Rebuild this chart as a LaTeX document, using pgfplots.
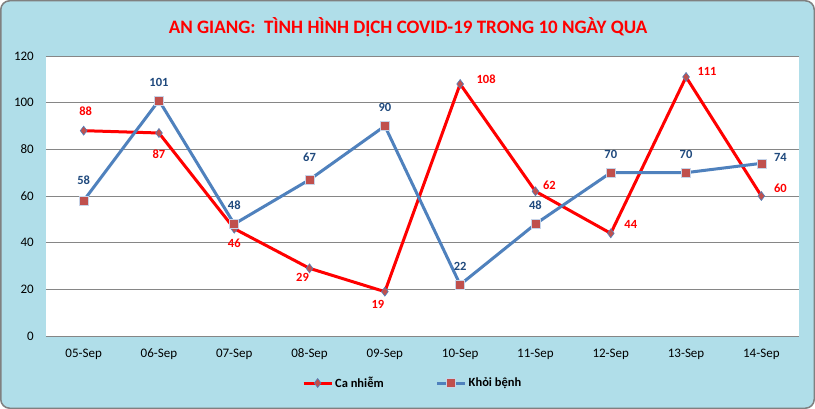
\documentclass[border=0pt]{standalone}
\usepackage{fontspec}
\setmainfont{Carlito}
\usepackage{pgfplots}
\usepackage{pgfplotstable}
\pgfplotsset{compat=1.18}

\definecolor{bgblue}{RGB}{176,222,233}
\definecolor{frame}{RGB}{128,128,128}
\definecolor{ser1}{RGB}{255,0,0}
\definecolor{ser2}{RGB}{79,129,189}
\definecolor{mk}{RGB}{192,80,77}
\definecolor{mkedge}{RGB}{200,212,232}
\definecolor{lbl2}{RGB}{31,73,125}
\definecolor{gridc}{RGB}{134,134,134}

% x = day index (05-Sep = 0), dx/dy = label offset in bp
\pgfplotstableread{
x y dx dy
0 88 2 19
1 87 0 -21
2 46 0 -15
3 29 -7 -9
4 19 -7 -13
5 108 26 5
6 62 14 6
7 44 20 9
8 111 21 6
9 60 19 8
}\canhiem

\pgfplotstableread{
x y dx dy
0 58 0 20
1 101 0 18
2 48 0 19
3 67 0 22
4 90 0 19
5 22 0 18
6 48 0 19
7 70 0 18
8 70 0 18
9 74 19 6
}\khoibenh

\begin{document}
\begin{tikzpicture}
\useasboundingbox (0,0) rectangle (815bp,409bp);
\fill[bgblue, rounded corners=9bp] (0.75bp,0.75bp) rectangle (814.25bp,408.25bp);
\draw[frame, line width=1.5bp, rounded corners=9bp] (0.75bp,0.75bp) rectangle (814.25bp,408.25bp);

\node[font=\fontsize{19bp}{21bp}\selectfont\bfseries, text=ser1] at (408bp,382bp)
  {AN GIANG:\ \ TÌNH HÌNH DỊCH COVID-19 TRONG 10 NGÀY QUA};

\begin{axis}[
  at={(46bp,73bp)}, anchor=south west,
  scale only axis, width=753bp, height=280bp,
  xmin=-0.5, xmax=9.5, ymin=0, ymax=120,
  xtick={0,...,9},
  xticklabels={05-Sep,06-Sep,07-Sep,08-Sep,09-Sep,10-Sep,11-Sep,12-Sep,13-Sep,14-Sep},
  ytick={0,20,...,120},
  axis line style={draw=none},
  major tick length=0pt,
  ymajorgrids,
  grid style={gridc, line width=0.9bp},
  axis background/.style={fill=white},
  clip=false,
  /pgf/number format/assume math mode=true,
  tick label style={font=\fontsize{13bp}{15bp}\selectfont, inner sep=0pt},
  xticklabel style={anchor=center, yshift=-18bp},
  yticklabel style={anchor=east, xshift=-12bp},
  legend style={at={(axis description cs:0.487,0)}, anchor=center, yshift=-47bp,
    draw=none, fill=none, font=\fontsize{12.5bp}{14bp}\selectfont\bfseries,
    /tikz/every even column/.append style={column sep=50bp}},
  legend columns=2,
  legend image code/.code={
    \draw[mark repeat=2, mark phase=2, #1] plot coordinates {(0bp,0bp) (14bp,0bp) (28bp,0bp)};
  },
  nodes near coords,
  visualization depends on={\thisrow{dx} \as \dx},
  visualization depends on={\thisrow{dy} \as \dy},
]
\addplot[ser1, line width=3bp, mark=diamond*, mark size=4.5bp,
  mark options={fill=mk, draw=ser2, line width=0.6bp},
  nodes near coords style={font=\fontsize{12.5bp}{14bp}\selectfont\bfseries, text=ser1,
    anchor=center, xshift=\dx bp, yshift=\dy bp}]
  table[x=x, y=y] {\canhiem};
\addlegendentry{Ca nhiễm}

\addplot[ser2, line width=3bp, mark=square*, mark size=4.5bp,
  mark options={fill=mk, draw=mkedge, line width=0.6bp},
  nodes near coords style={font=\fontsize{12.5bp}{14bp}\selectfont\bfseries, text=lbl2,
    anchor=center, xshift=\dx bp, yshift=\dy bp}]
  table[x=x, y=y] {\khoibenh};
\addlegendentry{Khỏi bệnh}
\end{axis}
\end{tikzpicture}
\end{document}
